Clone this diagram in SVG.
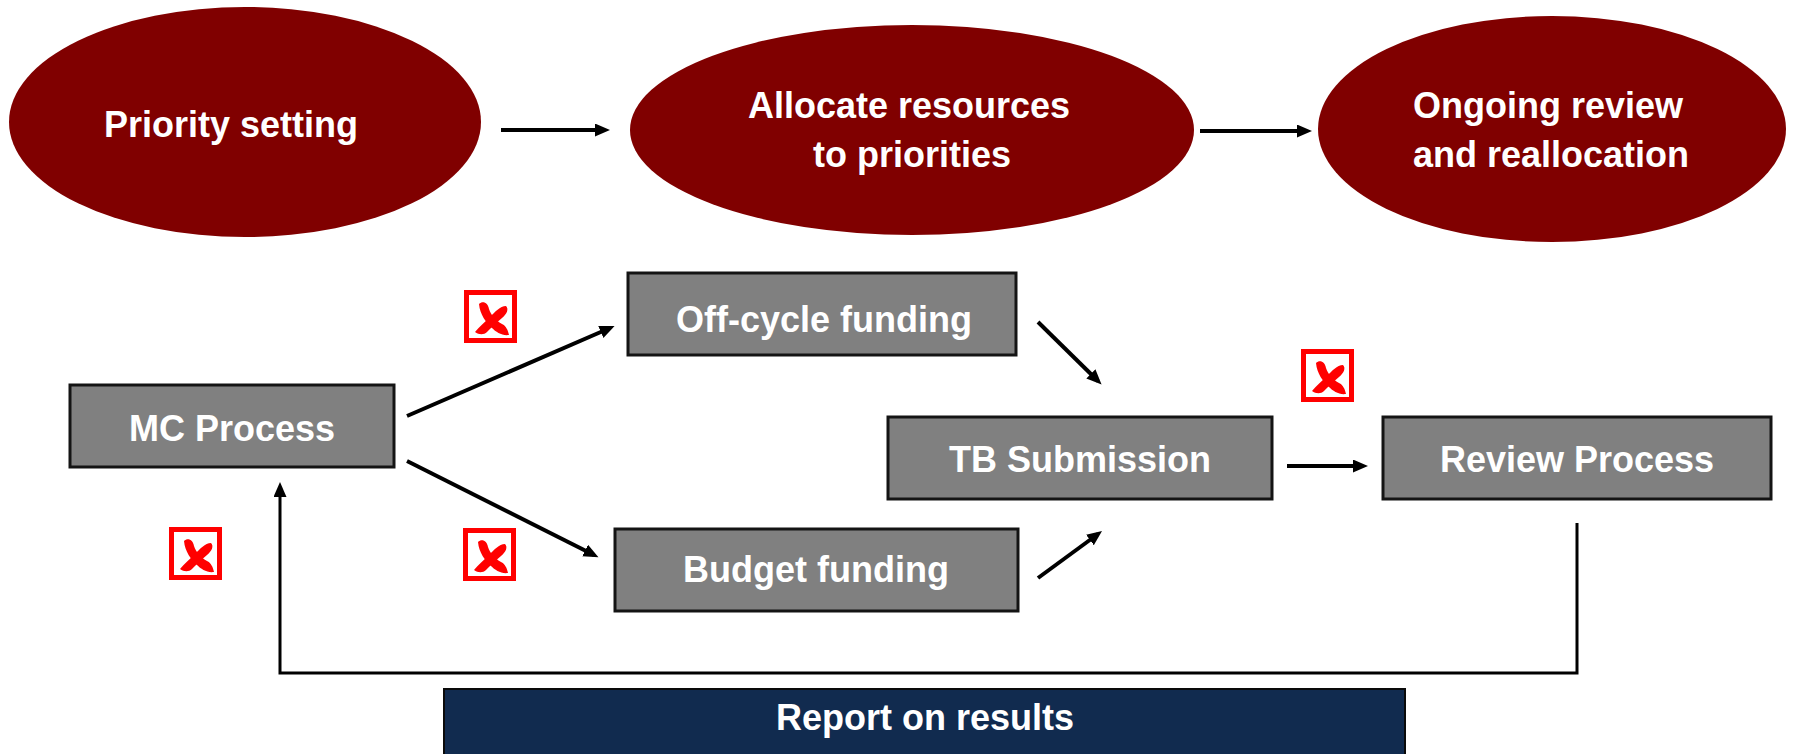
<svg xmlns="http://www.w3.org/2000/svg" width="1793" height="754" viewBox="0 0 1793 754">
<style>
.ell{fill:#800000;}
.box{fill:#808080;stroke:#141414;stroke-width:3;}
.rep{fill:#112b4f;stroke:#0a0a0a;stroke-width:2;}
.lbl{font-family:"Liberation Sans",Arial,sans-serif;font-weight:bold;font-size:36px;fill:#ffffff;text-anchor:middle;}
.con{stroke:#000;stroke-width:4;fill:none;marker-end:url(#ah);}
.fb{stroke:#000;stroke-width:3;fill:none;}
</style>
<defs>
<marker id="ah" markerUnits="userSpaceOnUse" markerWidth="17" markerHeight="15" refX="10" refY="6.5" orient="auto">
<path d="M0,0 L15,6.5 L0,13 z" fill="#000"/>
</marker>
<g id="redx">
<rect x="2.5" y="2.5" width="48" height="48" fill="#fff" stroke="#ff0000" stroke-width="5"/>
<path d="M15,14 C19,10 24,13 25,19 C27,25 31,30 38,34 C42,36 44,40 45,45 C38,46 32,42 28,38 C22,32 16,25 15,14 Z" fill="#ff0000"/>
<path d="M42,16 C45,19 43,24 38,28 C32,33 27,38 23,42 C20,45 15,45 11,42 C15,37 21,32 26,27 C31,22 36,16 42,16 Z" fill="#ff0000"/>
</g>
</defs>
<rect width="1793" height="754" fill="#fff"/>

<g id="connectors">
<line class="con" x1="501" y1="130" x2="605" y2="130"/>
<line class="con" x1="1200" y1="131" x2="1307" y2="131"/>
<line class="con" x1="407" y1="416" x2="610" y2="328"/>
<line class="con" x1="407" y1="461" x2="594" y2="555"/>
<line class="con" x1="1038" y1="322" x2="1098" y2="381"/>
<line class="con" x1="1038" y1="578" x2="1098" y2="534"/>
<line class="con" x1="1287" y1="466" x2="1363" y2="466"/>
<polyline class="fb" points="1577,523 1577,673 280,673 280,487" marker-end="url(#ah)"/>
</g>

<g id="priority-setting">
<ellipse class="ell" cx="245" cy="122" rx="236" ry="115"/>
<text class="lbl" x="231" y="137">Priority setting</text>
</g>
<g id="allocate-resources">
<ellipse class="ell" cx="912" cy="130" rx="282" ry="105"/>
<text class="lbl" x="909" y="118">Allocate resources</text>
<text class="lbl" x="912" y="167">to priorities</text>
</g>
<g id="ongoing-review">
<ellipse class="ell" cx="1552" cy="129" rx="234" ry="113"/>
<text class="lbl" x="1548" y="118">Ongoing review</text>
<text class="lbl" x="1551" y="167">and reallocation</text>
</g>

<g id="mc-process">
<rect class="box" x="70" y="385" width="324" height="82"/>
<text class="lbl" x="232" y="441">MC Process</text>
</g>
<g id="off-cycle-funding">
<rect class="box" x="628" y="273" width="388" height="82"/>
<text class="lbl" x="824" y="332">Off-cycle funding</text>
</g>
<g id="budget-funding">
<rect class="box" x="615" y="529" width="403" height="82"/>
<text class="lbl" x="816" y="582">Budget funding</text>
</g>
<g id="tb-submission">
<rect class="box" x="888" y="417" width="384" height="82"/>
<text class="lbl" x="1080" y="472">TB Submission</text>
</g>
<g id="review-process">
<rect class="box" x="1383" y="417" width="388" height="82"/>
<text class="lbl" x="1577" y="472">Review Process</text>
</g>
<g id="report-on-results">
<rect class="rep" x="444" y="689" width="961" height="72"/>
<text class="lbl" x="925" y="730">Report on results</text>
</g>

<g id="red-x-marks">
<use href="#redx" x="464" y="290"/>
<use href="#redx" x="1301" y="349"/>
<use href="#redx" x="169" y="527"/>
<use href="#redx" x="463" y="528"/>
</g>
</svg>
